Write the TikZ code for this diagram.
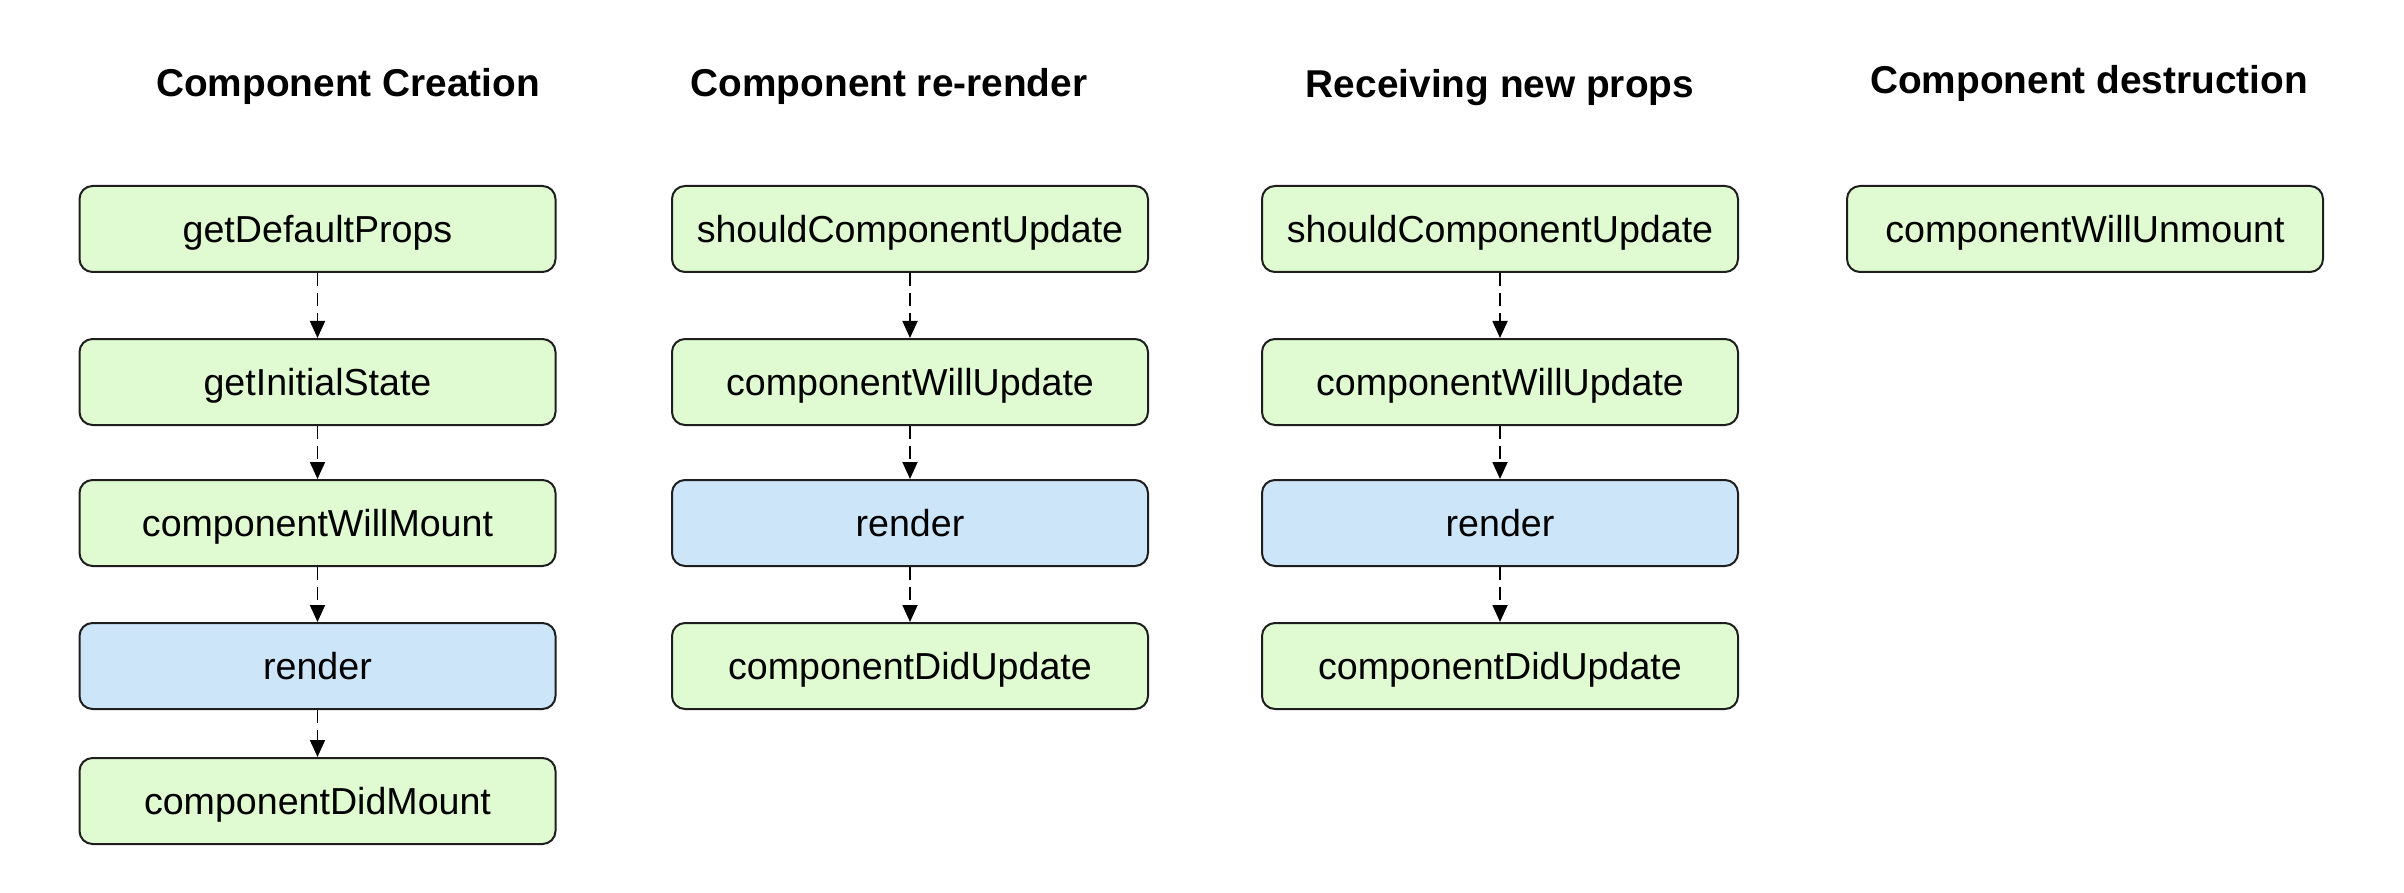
\documentclass[tikz,border=0pt]{standalone}
\usepackage{fontspec}
\setmainfont{Liberation Sans}
\usetikzlibrary{arrows.meta}
\definecolor{lcgreen}{RGB}{224,250,210}
\definecolor{lcblue}{RGB}{205,229,249}
\definecolor{lcline}{RGB}{30,30,30}
\begin{document}
\begin{tikzpicture}[x=0.5pt,y=-0.5pt,
  lcbox/.style={draw=lcline, line width=1pt, rounded corners=6.5pt,
    minimum width=238pt, minimum height=43pt, inner sep=0pt,
    text height=13.4pt, text depth=0pt,
    font=\fontsize{18.8}{22}\selectfont, text=black},
  greenbox/.style={lcbox, fill=lcgreen},
  bluebox/.style={lcbox, fill=lcblue},
  coltitle/.style={font=\bfseries\fontsize{19.4}{23}\selectfont, anchor=base, inner sep=0pt},
  flow/.style={line width=0.9pt, dash pattern=on 6.5pt off 3.5pt,
    -{Triangle[length=8.5pt,width=7.5pt]}}
]
\useasboundingbox (0,0) rectangle (2404,893);

% titles
\node[coltitle] (t1) at (348,97) {Component Creation};
\node[coltitle] (t2) at (889,97) {Component re-render};
\node[coltitle] (t3) at (1500,98) {Receiving new props};
\node[coltitle] (t4) at (2089,94) {Component destruction};

% column 1
\node[greenbox] (a1) at (317.5,229) {getDefaultProps};
\node[greenbox] (a2) at (317.5,382) {getInitialState};
\node[greenbox] (a3) at (317.5,523) {componentWillMount};
\node[bluebox]  (a4) at (317.5,666) {render};
\node[greenbox] (a5) at (317.5,801) {componentDidMount};

% column 2
\node[greenbox] (b1) at (910,229) {shouldComponentUpdate};
\node[greenbox] (b2) at (910,382) {componentWillUpdate};
\node[bluebox]  (b3) at (910,523) {render};
\node[greenbox] (b4) at (910,666) {componentDidUpdate};

% column 3
\node[greenbox] (c1) at (1500,229) {shouldComponentUpdate};
\node[greenbox] (c2) at (1500,382) {componentWillUpdate};
\node[bluebox]  (c3) at (1500,523) {render};
\node[greenbox] (c4) at (1500,666) {componentDidUpdate};

% column 4
\node[greenbox] (d1) at (2085,229) {componentWillUnmount};

% connectors
\draw[flow] (a1) -- (a2);
\draw[flow] (a2) -- (a3);
\draw[flow] (a3) -- (a4);
\draw[flow] (a4) -- (a5);
\draw[flow] (b1) -- (b2);
\draw[flow] (b2) -- (b3);
\draw[flow] (b3) -- (b4);
\draw[flow] (c1) -- (c2);
\draw[flow] (c2) -- (c3);
\draw[flow] (c3) -- (c4);
\end{tikzpicture}
\end{document}
